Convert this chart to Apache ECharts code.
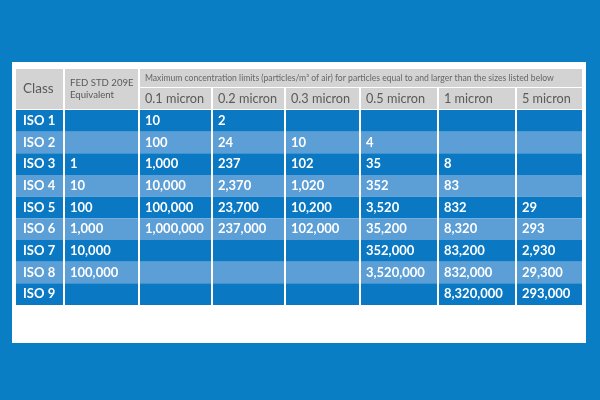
<!DOCTYPE html>
<html>
<head>
<meta charset="utf-8">
<script src="https://cdn.jsdelivr.net/npm/echarts@6/dist/echarts.min.js"></script>
<style>html,body{margin:0;padding:0;background:#0a7ec4}#c{width:600px;height:400px}</style>
</head>
<body>
<div id="c"></div>
<script>
// ---- data ----
const classes = ['ISO 1','ISO 2','ISO 3','ISO 4','ISO 5','ISO 6','ISO 7','ISO 8','ISO 9'];
const fedStd = ['', '', '1', '10', '100', '1,000', '10,000', '100,000', ''];
const sizes = ['0.1 micron','0.2 micron','0.3 micron','0.5 micron','1 micron','5 micron'];
const micron01 = ['10','100','1,000','10,000','100,000','1,000,000','','',''];
const micron02 = ['2','24','237','2,370','23,700','237,000','','',''];
const micron03 = ['','10','102','1,020','10,200','102,000','','',''];
const micron05 = ['','4','35','352','3,520','35,200','352,000','3,520,000',''];
const micron1 = ['','','8','83','832','8,320','83,200','832,000','8,320,000'];
const micron5 = ['','','','','29','293','2,930','29,300','293,000'];
const headClass = 'Class';
const headFed = 'FED STD 209E\nEquivalent';
const headMax = 'Maximum concentration limits (particles/m³ of air) for particles equal to and larger than the sizes listed below';

// ---- layout (axis units) ----
const colEdges = [[0,47],[49,122],[124,195],[197,268],[270,343],[345,421],[423,499],[501,566]];
const head1 = [0,18], head2 = [19,40], dataTop = 41, rowH = 195/9;
const C = {dark:'#0a78c2', light:'#5c9ed6', gray:'#d3d3d3', headText:'#5a5a5a', font:'Lato, sans-serif'};

const cols = [classes, fedStd, micron01, micron02, micron03, micron05, micron1, micron5];
const cells = [];
cells.push({x0:0,x1:47,y0:0,y1:40,fill:C.gray,text:headClass,color:C.headText,size:13.5,weight:'normal',lh:14,dx:7});
cells.push({x0:49,x1:122,y0:0,y1:40,fill:C.gray,text:headFed,color:C.headText,size:9.6,weight:'normal',lh:12,dx:5});
cells.push({x0:124,x1:566,y0:head1[0],y1:head1[1],fill:C.gray,text:headMax,color:'#666',size:8.6,weight:'normal',lh:10,dx:5});
sizes.forEach((s,i)=>{const e=colEdges[i+2];cells.push({x0:e[0],x1:e[1],y0:head2[0],y1:head2[1],fill:C.gray,text:s,color:C.headText,size:12.7,weight:'normal',lh:14,dx:5});});
classes.forEach((_,r)=>{
  cols.forEach((col,c)=>{
    const e=colEdges[c];
    cells.push({x0:e[0],x1:e[1],y0:dataTop+r*rowH,y1:dataTop+(r+1)*rowH,fill:r%2?C.light:C.dark,text:col[r],color:'#fff',size:13,weight:'bold',lh:14,dx:c===0?7:5});
  });
});

const chart = echarts.init(document.getElementById('c'));
chart.setOption({
  backgroundColor:'#0a7ec4',
  animation:false,
  graphic:[{type:'rect',shape:{x:12,y:62,width:574,height:281},style:{fill:'#fff'},z:-1}],
  grid:{left:16,top:69,width:566,height:236},
  xAxis:{type:'value',min:0,max:566,show:false},
  yAxis:{type:'value',min:0,max:236,inverse:true,show:false},
  series:[{
    type:'custom',
    data:cells.map((c,i)=>[c.x0,c.x1,c.y0,c.y1,i]),
    renderItem:(params,api)=>{
      const c=cells[api.value(4)];
      const p0=api.coord([api.value(0),api.value(2)]);
      const p1=api.coord([api.value(1),api.value(3)]);
      return {type:'group',children:[
        {type:'rect',shape:{x:p0[0],y:p0[1],width:p1[0]-p0[0],height:p1[1]-p0[1]},style:{fill:c.fill}},
        {type:'text',style:{x:p0[0]+c.dx,y:(p0[1]+p1[1])/2,text:c.text,fill:c.color,
          font:c.weight+' '+c.size+'px '+C.font,lineHeight:c.lh,verticalAlign:'middle',align:'left'}}
      ]};
    }
  }]
});
</script>
</body>
</html>
